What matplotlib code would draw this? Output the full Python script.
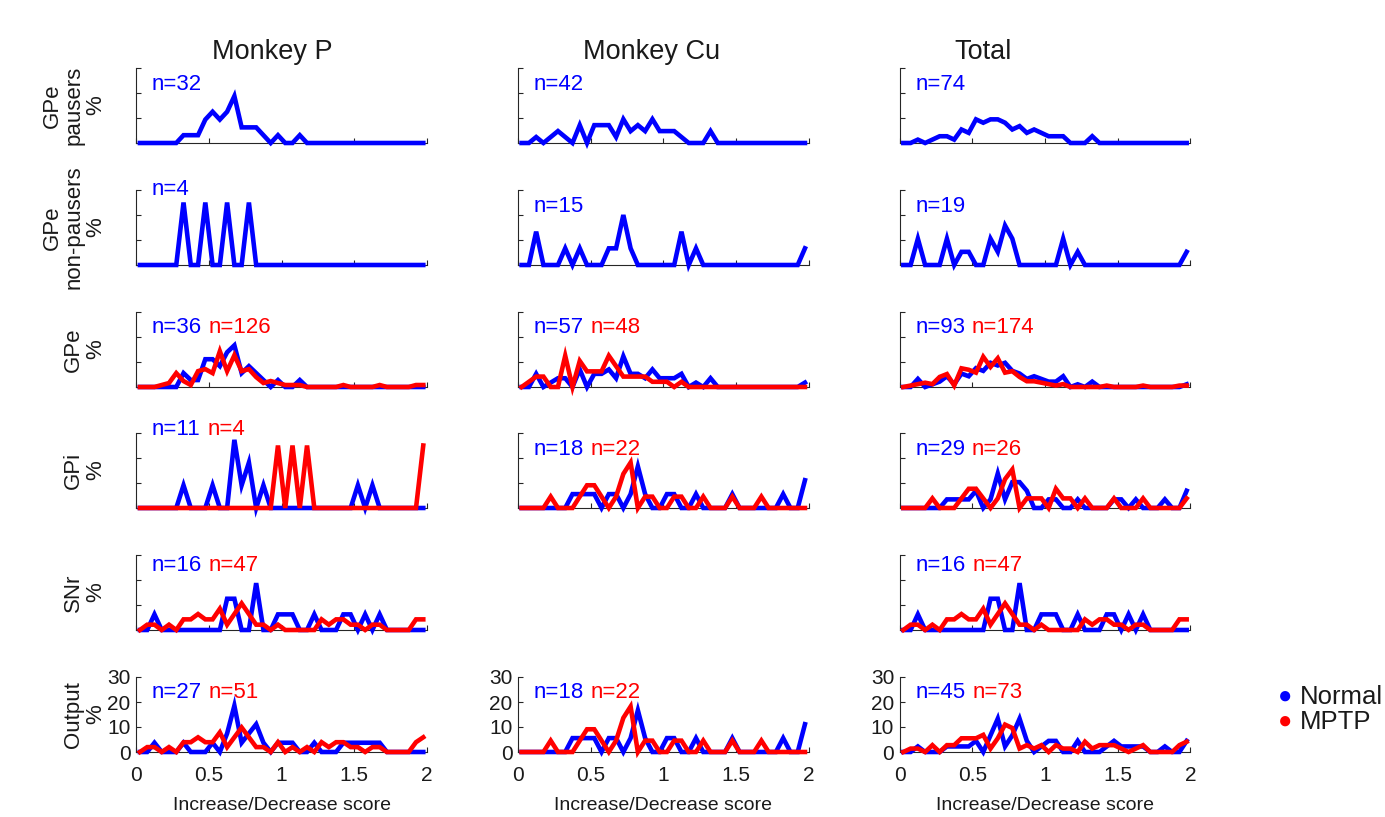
import numpy as np
import matplotlib.pyplot as plt

plt.rcParams['font.family'] = ['Liberation Sans', 'DejaVu Sans']

# 40 bins of width 0.05 on the increase/decrease score
score = np.linspace(0.025, 1.975, 40)

# cell counts per bin
pausers_P = [0, 0, 0, 0, 0, 0, 1, 1, 1, 3, 4, 3, 4, 6, 2, 2, 2, 1, 0, 1,
             0, 0, 1, 0, 0, 0, 0, 0, 0, 0, 0, 0, 0, 0, 0, 0, 0, 0, 0, 0]
nonpausers_P = [0, 0, 0, 0, 0, 0, 1, 0, 0, 1, 0, 0, 1, 0, 0, 1, 0, 0, 0, 0,
                0, 0, 0, 0, 0, 0, 0, 0, 0, 0, 0, 0, 0, 0, 0, 0, 0, 0, 0, 0]
pausers_Cu = [0, 0, 1, 0, 1, 2, 1, 0, 3, 0, 3, 3, 3, 1, 4, 2, 3, 2, 4, 2,
              2, 2, 1, 0, 0, 0, 2, 0, 0, 0, 0, 0, 0, 0, 0, 0, 0, 0, 0, 0]
nonpausers_Cu = [0, 0, 2, 0, 0, 0, 1, 0, 1, 0, 0, 0, 1, 1, 3, 1, 0, 0, 0, 0,
                 0, 0, 2, 0, 1, 0, 0, 0, 0, 0, 0, 0, 0, 0, 0, 0, 0, 0, 0, 1]
gpe_mptp_P = [0, 0, 0, 1, 2, 7, 3, 1, 8, 9, 7, 18, 8, 16, 8, 9, 5, 2, 3, 2,
              1, 1, 1, 0, 0, 0, 0, 0, 1, 0, 0, 0, 0, 1, 0, 0, 0, 0, 1, 1]
gpe_mptp_Cu = [0, 1, 2, 2, 0, 0, 6, 0, 5, 3, 3, 3, 6, 4, 2, 2, 2, 2, 1, 1,
               1, 0, 1, 0, 0, 0, 0, 0, 0, 0, 0, 0, 0, 0, 0, 0, 0, 0, 0, 0]
gpi_norm_P = [0, 0, 0, 0, 0, 0, 1, 0, 0, 0, 1, 0, 0, 3, 1, 2, 0, 1, 0, 0,
              0, 0, 0, 0, 0, 0, 0, 0, 0, 0, 1, 0, 1, 0, 0, 0, 0, 0, 0, 0]
gpi_mptp_P = [0, 0, 0, 0, 0, 0, 0, 0, 0, 0, 0, 0, 0, 0, 0, 0, 0, 0, 0, 1,
              0, 1, 0, 1, 0, 0, 0, 0, 0, 0, 0, 0, 0, 0, 0, 0, 0, 0, 0, 1]
gpi_norm_Cu = [0, 0, 0, 0, 0, 0, 0, 1, 1, 1, 1, 0, 1, 1, 0, 1, 3, 1, 0, 0,
               1, 1, 0, 0, 1, 0, 0, 0, 0, 1, 0, 0, 0, 0, 0, 0, 1, 0, 0, 2]
gpi_mptp_Cu = [0, 0, 0, 0, 1, 0, 0, 0, 1, 2, 2, 1, 0, 1, 3, 4, 0, 1, 1, 0,
               0, 1, 1, 0, 0, 1, 0, 0, 0, 1, 0, 0, 0, 1, 0, 0, 0, 0, 0, 0]
snr_norm_P = [0, 0, 1, 0, 0, 0, 0, 0, 0, 0, 0, 0, 2, 2, 0, 0, 3, 0, 0, 1,
              1, 1, 0, 0, 1, 0, 0, 0, 1, 1, 0, 1, 0, 1, 0, 0, 0, 0, 0, 0]
snr_mptp_P = [0, 1, 1, 0, 1, 0, 2, 2, 3, 2, 2, 4, 1, 3, 5, 3, 1, 1, 0, 1,
              0, 0, 0, 0, 0, 2, 1, 2, 2, 1, 1, 0, 1, 1, 0, 0, 0, 0, 2, 2]

# number of cells in each group
n_pausers = [32, 42, 74]
n_nonpausers = [4, 15, 19]
n_gpe = [(36, 126), (57, 48), (93, 174)]
n_gpi = [(11, 4), (18, 22), (29, 26)]
n_snr = [(16, 47), None, (16, 47)]
n_out = [(27, 51), (18, 22), (45, 73)]

col_titles = ['Monkey P', 'Monkey Cu', 'Total']
row_labels = ['GPe\npausers\n%', 'GPe\nnon-pausers\n%', 'GPe\n%', 'GPi\n%', 'SNr\n%', 'Output\n%']

a = lambda x: np.array(x, dtype=float)
zero = np.zeros(40)

pau = [a(pausers_P), a(pausers_Cu)]
non = [a(nonpausers_P), a(nonpausers_Cu)]
gpe_m = [a(gpe_mptp_P), a(gpe_mptp_Cu)]
gpi_n = [a(gpi_norm_P), a(gpi_norm_Cu)]
gpi_m = [a(gpi_mptp_P), a(gpi_mptp_Cu)]
snr_n = [a(snr_norm_P), zero]
snr_m = [a(snr_mptp_P), zero]
# third column pools both monkeys
for lst in (pau, non, gpe_m, gpi_n, gpi_m, snr_n, snr_m):
    lst.append(lst[0] + lst[1])

rows = []
rows.append([(pau[c], n_pausers[c], None, None) for c in range(3)])
rows.append([(non[c], n_nonpausers[c], None, None) for c in range(3)])
rows.append([(pau[c] + non[c], n_gpe[c][0], gpe_m[c], n_gpe[c][1]) for c in range(3)])
rows.append([(gpi_n[c], n_gpi[c][0], gpi_m[c], n_gpi[c][1]) for c in range(3)])
rows.append([(snr_n[c], n_snr[c][0], snr_m[c], n_snr[c][1]) if n_snr[c] else None
             for c in range(3)])
rows.append([(gpi_n[c] + snr_n[c], n_out[c][0], gpi_m[c] + snr_m[c], n_out[c][1])
             for c in range(3)])

# label heights (fraction of axis) where the text would sit on the data
label_y = [[0.71, 0.71, 0.71], [0.93, 0.71, 0.71], [0.72, 0.72, 0.72],
           [0.97, 0.71, 0.71], [0.79, 0.79, 0.79], [0.72, 0.72, 0.72]]

W, H = 1385, 817
fig = plt.figure(figsize=(W / 100, H / 100), dpi=100)

col_x = [136.3, 518, 899.7]
row_top = [68, 190, 312, 433, 555, 677]
ax_w, ax_h = 290.6, 75

blue = '#0000ff'
red = '#ff0000'
spine_c = '#262626'
txt_c = '#1a1a1a'

for r in range(6):
    for c in range(3):
        panel = rows[r][c]
        if panel is None:
            continue
        ax = fig.add_axes([col_x[c] / W, 1 - (row_top[r] + ax_h) / H, ax_w / W, ax_h / H])
        ax.set_xlim(0, 2)
        ax.set_ylim(0, 30)
        for s in ('top', 'right'):
            ax.spines[s].set_visible(False)
        for s in ('left', 'bottom'):
            ax.spines[s].set_color(spine_c)
            ax.spines[s].set_linewidth(0.8)
        ax.set_xticks([0, 0.5, 1, 1.5, 2])
        ax.set_yticks([0, 10, 20, 30])
        ax.tick_params(direction='in', length=3.5, width=0.8, color=spine_c,
                       labelsize=15, labelcolor=txt_c)
        ax.tick_params(axis='x', pad=10)
        ax.tick_params(axis='y', pad=4)
        if r < 5:
            ax.set_xticklabels([])
            ax.set_yticklabels([])
        else:
            ax.set_xticklabels(['0', '0.5', '1', '1.5', '2'])
            ax.set_xlabel('Increase/Decrease score', fontsize=14, labelpad=9, color=txt_c)
        ax.set_facecolor('none')

        cnt_n, n_n, cnt_m, n_m = panel
        ax.plot(score, cnt_n / n_n * 100, color=blue, lw=3.3, clip_on=False, zorder=3,
                solid_joinstyle='miter')
        t = ax.text(0.053, label_y[r][c], 'n=%d' % n_n, transform=ax.transAxes,
                    color=blue, fontsize=16, va='baseline', ha='left')
        if cnt_m is not None:
            ax.plot(score, cnt_m / n_m * 100, color=red, lw=3.3, clip_on=False, zorder=4,
                    solid_joinstyle='miter')
            ax.annotate('n=%d' % n_m, xy=(1, 0), xycoords=t, xytext=(5, 0),
                        textcoords='offset points', color=red, fontsize=16,
                        va='bottom', ha='left')

# column titles
for x, title in zip([272, 652, 983], col_titles):
    fig.text(x / W, 1 - 52 / H, title, fontsize=19.5, ha='center', va='center', color=txt_c)

# row labels
for r, lab in enumerate(row_labels):
    fig.text(106 / W, 1 - (row_top[r] + ax_h / 2) / H, lab, rotation=90, fontsize=16,
             ha='right', va='center', multialignment='center', linespacing=1.05,
             color=txt_c)

# legend
for y, lab, col in [(697, 'Normal', blue), (722, 'MPTP', red)]:
    fig.text(1285 / W, 1 - y / H, '\u25cf', color=col, fontsize=17, ha='center', va='center')
    fig.text(1300 / W, 1 - y / H, lab, color=txt_c, fontsize=18.5, ha='left', va='center')

fig.savefig('out.png', dpi=100)
